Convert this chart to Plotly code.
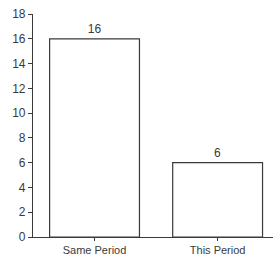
import plotly.graph_objects as go

categories = ["Same Period", "This Period"]
values = [16, 6]
y_ticks = [0, 2, 4, 6, 8, 10, 12, 14, 16, 18]

ink = "#3a3a3a"
fig = go.Figure(go.Bar(
    x=categories, y=values, width=0.73,
    marker=dict(color="white", line=dict(color=ink, width=1.2)),
    text=[str(v) for v in values], textposition="outside",
    textfont=dict(family="Arial, Liberation Sans", size=12, color=ink),
    cliponaxis=False,
))
fig.update_layout(
    width=273, height=259,
    margin=dict(l=33, r=0, t=14, b=22),
    paper_bgcolor="white", plot_bgcolor="white",
    showlegend=False,
    font=dict(family="Arial, Liberation Sans", size=12, color=ink),
)
fig.update_xaxes(
    range=[-0.5, 1.45], showline=True, linecolor=ink, linewidth=1.2,
    ticks="outside", ticklen=3, tickcolor=ink, showgrid=False,
    tickfont=dict(size=11),
)
fig.update_yaxes(
    range=[0, 18], tickvals=y_ticks, showline=True, linecolor=ink, linewidth=1.2,
    ticks="outside", ticklen=4, tickcolor=ink, showgrid=False, zeroline=False,
    tickfont=dict(size=12),
)
fig.write_html(
    "out.html",
    config={"displayModeBar": False},
    post_script="document.body.style.margin='0';document.body.style.overflow='hidden';",
)
